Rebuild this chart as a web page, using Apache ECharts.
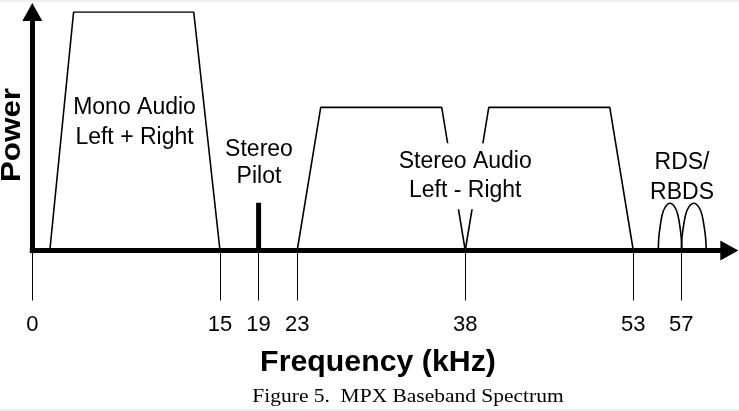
<!DOCTYPE html>
<html><head><meta charset="utf-8">
<script src="https://cdn.jsdelivr.net/npm/echarts@6/dist/echarts.min.js"></script>
<style>html,body{margin:0;padding:0;background:#fff}#c{width:739px;height:411px}</style>
</head><body><div id="c"></div>
<script>
// ---------- data: frequency in kHz, power in arbitrary units ----------
const tickValues = [0, 15, 19, 23, 38, 53, 57];
const monoFreq  = [1.4, 3.3, 12.9, 15];
const monoPower = [0, 10, 10, 0];
const pilotFreq  = [19, 19];
const pilotPower = [0, 2];
const lsbFreq  = [23, 25.1, 35.9, 38];
const lsbPower = [0, 6, 6, 0];
const usbFreq  = [38, 40.1, 50.9, 53];
const usbPower = [0, 6, 6, 0];
const rds1Freq  = [55.08, 55.12, 55.22, 55.41, 55.66, 56.06, 56.46, 56.71, 56.9, 57.0, 57.06];
const rds1Power = [0, 0.5, 0.95, 1.5, 1.82, 1.98, 1.82, 1.5, 0.95, 0.5, 0];
const rds2Freq  = [57.0, 57.05, 57.16, 57.36, 57.62, 58.04, 58.46, 58.72, 58.92, 59.03, 59.08];
const rds2Power = [0, 0.5, 0.95, 1.5, 1.82, 1.98, 1.82, 1.5, 0.95, 0.5, 0];
// schematic (not-to-scale) frequency axis: piecewise segments
const segments = [[0, 15], [15, 23], [23, 53], [53, 61]];

// ---------- layout ----------
const segLeft  = [32.3, 220, 297.2, 633.3];
const segWidth = [187.7, 77.2, 336.1, 96];
const gridTop = 12, gridHeight = 238.5;
const FONT = '"Liberation Sans", Arial, Helvetica, sans-serif';

const pairs = (xs, ys) => xs.map((x, i) => [x, ys[i]]);

const grid = [], xAxis = [], yAxis = [];
segments.forEach((s, i) => {
  grid.push({left: segLeft[i], top: gridTop, width: segWidth[i], height: gridHeight, containLabel: false, outerBoundsMode: 'none'});
  const tv = tickValues.filter(v => (i === 0 ? v >= s[0] : v > s[0]) && v <= s[1]);
  xAxis.push({
    gridIndex: i, type: 'value', min: s[0], max: s[1],
    axisLine: {show: true, onZero: false, lineStyle: {color: '#000', width: 5, cap: 'square'},
      symbol: i === segments.length - 1 ? ['none', 'triangle'] : 'none', symbolSize: [20, 18]},
    axisTick: {show: true, customValues: tv, length: 50, lineStyle: {color: '#000', width: 1}},
    axisLabel: {show: true, customValues: tv, margin: 63, fontSize: 22, color: '#000', fontFamily: FONT,
      showMinLabel: true, showMaxLabel: true},
    splitLine: {show: false}
  });
  yAxis.push({
    gridIndex: i, type: 'value', min: 0, max: 10, show: i === 0,
    axisLine: {show: i === 0, onZero: false, lineStyle: {color: '#000', width: 5, cap: 'square'},
      symbol: ['none', 'triangle'], symbolSize: [20, 18]},
    axisTick: {show: false}, axisLabel: {show: false}, splitLine: {show: false}
  });
});

const textStyle = {color: '#000', fontFamily: FONT, fontSize: 23};
function note(coord, text, lh, extra) {
  return {
    symbol: 'circle', symbolSize: 0, z: 10, silent: true,
    data: [{coord: coord, value: 0}],
    label: Object.assign({show: true, position: 'inside', formatter: text, lineHeight: lh, align: 'center', verticalAlign: 'middle'}, textStyle, extra || {})
  };
}
function lineSeries(idx, data, width, mp) {
  const s = {type: 'line', xAxisIndex: idx, yAxisIndex: idx, data: data, symbol: 'none', showSymbol: false,
    lineStyle: {color: '#000', width: width}, silent: true, animation: false, z: 3};
  if (mp) s.markPoint = mp;
  return s;
}

const series = [
  lineSeries(0, pairs(monoFreq, monoPower), 1.6, note([8.17, 5.35], 'Mono Audio\nLeft + Right', 30)),
  lineSeries(1, pairs(pilotFreq, pilotPower), 5, note([19.04, 3.65], 'Stereo\nPilot', 27)),
  lineSeries(2, pairs(lsbFreq, lsbPower), 1.6, note([38, 3.11], 'Stereo Audio\nLeft - Right', 29, {backgroundColor: '#fff', padding: [4, 6, 4, 6]})),
  lineSeries(2, pairs(usbFreq, usbPower), 1.6),
  Object.assign(lineSeries(3, pairs(rds1Freq, rds1Power), 1.6, note([57.06, 3.04], 'RDS/\nRBDS', 30)), {smooth: 0.3}),
  Object.assign(lineSeries(3, pairs(rds2Freq, rds2Power), 1.6), {smooth: 0.3})
];

const chart = echarts.init(document.getElementById('c'), null, {renderer: 'canvas'});
chart.setOption({
  backgroundColor: '#fff',
  animation: false,
  grid: grid, xAxis: xAxis, yAxis: yAxis, series: series,
  graphic: [
    {type: 'rect', shape: {x: 0, y: 0, width: 739, height: 2}, style: {fill: '#eaf1f4'}, silent: true},
    {type: 'rect', shape: {x: 0, y: 409, width: 739, height: 2}, style: {fill: '#e3f3f3'}, silent: true},
    {type: 'text', x: 12, y: 135, rotation: Math.PI / 2, scaleX: 1.12,
      style: {text: 'Power', fill: '#000', font: 'bold 28px ' + FONT, align: 'center', verticalAlign: 'middle'}},
    {type: 'text', x: 378, y: 363, scaleX: 1.045,
      style: {text: 'Frequency (kHz)', fill: '#000', font: 'bold 29px ' + FONT, align: 'center', verticalAlign: 'middle'}},
    {type: 'text', x: 408, y: 397, scaleX: 1.13,
      style: {text: 'Figure 5.  MPX Baseband Spectrum', fill: '#000', font: '19px "Liberation Serif", "Times New Roman", serif', align: 'center', verticalAlign: 'middle'}}
  ]
});
</script></body></html>
